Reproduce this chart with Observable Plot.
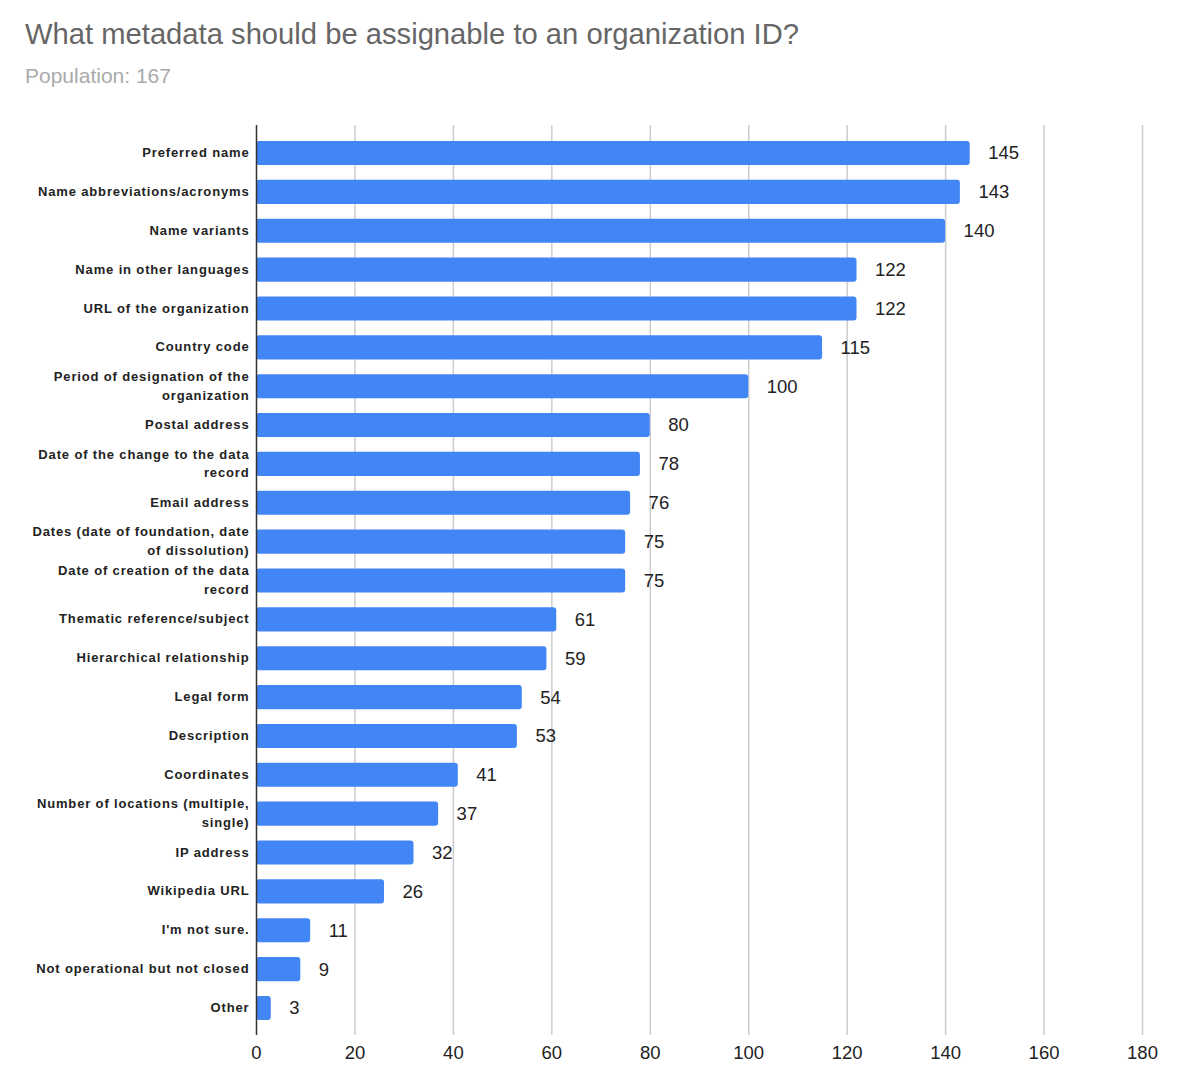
<!DOCTYPE html>
<html>
<head>
<meta charset="utf-8">
<script src="https://cdn.jsdelivr.net/npm/d3@7"></script>
<script src="https://cdn.jsdelivr.net/npm/@observablehq/plot@0.6"></script>
<style>
  body { margin: 0; background: #fff; font-family: "Liberation Sans", Arial, sans-serif; overflow: hidden; }
  #head { position: relative; height: 100px; width: 1200px; }
  #title { position: absolute; left: 25px; top: 18px; font-size: 29.2px; color: #666; white-space: nowrap; }
  #sub { position: absolute; left: 25px; top: 64px; font-size: 21px; color: #aaa; white-space: nowrap; }
  .ychart g[aria-label="y-axis tick label"] text { letter-spacing: 0.85px; }
</style>
</head>
<body>
<div id="head">
  <div id="title">What metadata should be assignable to an organization ID?</div>
  <div id="sub">Population: 167</div>
</div>
<div id="chart"></div>
<script>
const categories = [
  "Preferred name",
  "Name abbreviations/acronyms",
  "Name variants",
  "Name in other languages",
  "URL of the organization",
  "Country code",
  "Period of designation of the\norganization",
  "Postal address",
  "Date of the change to the data\nrecord",
  "Email address",
  "Dates (date of foundation, date\nof dissolution)",
  "Date of creation of the data\nrecord",
  "Thematic reference/subject",
  "Hierarchical relationship",
  "Legal form",
  "Description",
  "Coordinates",
  "Number of locations (multiple,\nsingle)",
  "IP address",
  "Wikipedia URL",
  "I'm not sure.",
  "Not operational but not closed",
  "Other"
];
const counts = [145, 143, 140, 122, 122, 115, 100, 80, 78, 76, 75, 75, 61, 59, 54, 53, 41, 37, 32, 26, 11, 9, 3];
const xTicks = [0, 20, 40, 60, 80, 100, 120, 140, 160, 180];

const data = categories.map((c, i) => ({category: c, value: counts[i]}));

const chart = Plot.plot({
  className: "ychart",
  width: 1200,
  height: 986,
  marginLeft: 256,
  marginRight: 58,
  marginTop: 25,
  marginBottom: 51,
  insetTop: 8.6,
  insetBottom: 7.6,
  style: {fontFamily: "Liberation Sans, Arial, sans-serif", background: "#fff"},
  x: {domain: [0, 180], ticks: xTicks},
  y: {domain: categories, paddingInner: 0.38, paddingOuter: 0.19, round: false},
  marks: [
    Plot.ruleX(xTicks.slice(1), {stroke: "#cccccc", strokeWidth: 1.5}),
    Plot.barX(data, {x: "value", y: "category", fill: "#4285F4", rx: 3}),
    Plot.ruleX([0], {stroke: "#333", strokeWidth: 1.5}),
    Plot.text(data, {x: "value", y: "category", text: d => String(d.value), dx: 18, textAnchor: "start", fontSize: 18.5, fill: "#222"}),
    Plot.axisX({ticks: xTicks, tickSize: 0, tickPadding: 10, fontSize: 18.5, color: "#222", label: null}),
    Plot.axisY({tickSize: 0, tickPadding: 7, dy: -2.5, fontSize: 13, fontWeight: "bold", color: "#222", lineHeight: 1.46, label: null})
  ]
});
document.getElementById("chart").appendChild(chart);
</script>
</body>
</html>
